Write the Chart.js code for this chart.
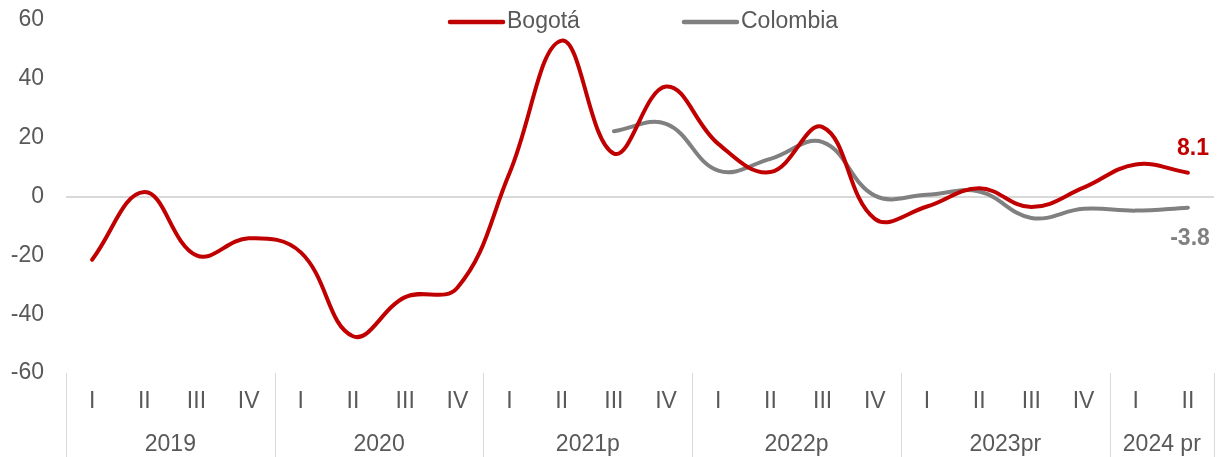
<!DOCTYPE html>
<html><head><meta charset="utf-8">
<script src="https://cdn.jsdelivr.net/npm/chart.js@4/dist/chart.umd.min.js"></script>
<style>html,body{margin:0;padding:0;background:#fff}#wrap{width:1221px;height:457px}</style>
</head><body><div id="wrap"><canvas id="c" width="1221" height="457"></canvas></div>
<script>
const quarters = ["I","II","III","IV","I","II","III","IV","I","II","III","IV","I","II","III","IV","I","II","III","IV","I","II"];
const years = ["2019","2020","2021p","2022p","2023pr","2024 pr"];
const yearSpans = [4,4,4,4,4,2];
const bogota = [-21.5,1.5,-20,-14.2,-19,-47.5,-34.2,-31,8,53,14.6,37.4,17.9,8.3,23.6,-7.6,-3.4,2.8,-3.6,3.0,10.9,8.1];
const colombia = [null,null,null,null,null,null,null,null,null,null,22.2,24.7,8.8,12.8,18.5,0.3,0.6,1.7,-7.3,-4.2,-4.8,-3.8];
const yTicks = [-60,-40,-20,0,20,40,60];

const FONT = '"Liberation Sans", Arial, sans-serif';
const TXT = '#595959';
const RED = '#C00000', GRAY = '#808080';
const FS = 23;

const overlay = {
  id:'overlay',
  afterDraw(chart){
    const ctx = chart.ctx, xs = chart.scales.x, ys = chart.scales.y, ca = chart.chartArea;
    ctx.save();
    const step = xs.getPixelForValue(1) - xs.getPixelForValue(0);
    ctx.strokeStyle = '#d9d9d9'; ctx.lineWidth = 1;
    ctx.fillStyle = TXT; ctx.font = FS + 'px ' + FONT; ctx.textAlign='center'; ctx.textBaseline='middle';
    quarters.forEach((q,i)=>{ ctx.fillText(q, xs.getPixelForValue(i), 402); });
    let idx = 0;
    const drawSep = x => { ctx.beginPath(); ctx.moveTo(Math.round(x)+0.5, ca.bottom); ctx.lineTo(Math.round(x)+0.5, 457); ctx.stroke(); };
    drawSep(xs.getPixelForValue(0) - step/2);
    years.forEach((y,k)=>{
      const a = xs.getPixelForValue(idx) - step/2;
      const b = xs.getPixelForValue(idx + yearSpans[k]-1) + step/2;
      ctx.fillText(y, (a+b)/2, 445);
      drawSep(b);
      idx += yearSpans[k];
    });
    const ds = chart.data.datasets;
    const leg = [{x:450, ds:ds[0]},{x:684, ds:ds[1]}];
    leg.forEach(l=>{
      ctx.strokeStyle = l.ds.borderColor; ctx.lineWidth = 4.5; ctx.lineCap='round';
      ctx.beginPath(); ctx.moveTo(l.x, 22); ctx.lineTo(l.x+53, 22); ctx.stroke();
      ctx.fillStyle = TXT; ctx.textAlign='left'; ctx.font = FS + 'px ' + FONT;
      ctx.fillText(l.ds.label, l.x+57, 22);
    });
    const n = bogota.length - 1;
    ctx.font = 'bold ' + FS + 'px ' + FONT; ctx.textAlign='center';
    ctx.fillStyle = RED;
    ctx.fillText(bogota[n].toFixed(1), 1193, ys.getPixelForValue(bogota[n]) - 24);
    ctx.fillStyle = GRAY;
    ctx.fillText(colombia[n].toFixed(1), 1190, ys.getPixelForValue(colombia[n]) + 31);
    ctx.restore();
  }
};

new Chart(document.getElementById('c'), {
  type:'line',
  data:{
    labels: quarters.map((q,i)=>i),
    datasets:[
      {label:'Bogotá', data:bogota, borderColor:RED, backgroundColor:RED, borderWidth:4, pointRadius:0, tension:0.4, borderCapStyle:'round', spanGaps:false},
      {label:'Colombia', data:colombia, borderColor:GRAY, backgroundColor:GRAY, borderWidth:4, pointRadius:0, tension:0.4, borderCapStyle:'round', spanGaps:false}
    ]
  },
  options:{
    responsive:false, animation:false,
    layout:{padding:{top:20,right:7,left:0,bottom:0}},
    plugins:{legend:{display:false}, tooltip:{enabled:false}},
    scales:{
      x:{
        offset:true,
        grid:{display:false, drawTicks:false},
        border:{display:false},
        ticks:{display:false},
        afterFit(s){ s.height = 84; s.paddingLeft = 0; s.paddingRight = 0; }
      },
      y:{
        min:-60, max:60,
        afterBuildTicks(s){ s.ticks = yTicks.map(v=>({value:v})); },
        grid:{drawTicks:false, color:c => c.tick && c.tick.value===0 ? '#d9d9d9' : 'rgba(0,0,0,0)', lineWidth:2},
        border:{display:false},
        ticks:{color:TXT, font:{family:FONT, size:FS}, padding:22},
        afterFit(s){ s.width = 66; s.paddingTop = 0; s.paddingBottom = 0; }
      }
    }
  },
  plugins:[overlay]
});
</script>
</body></html>
